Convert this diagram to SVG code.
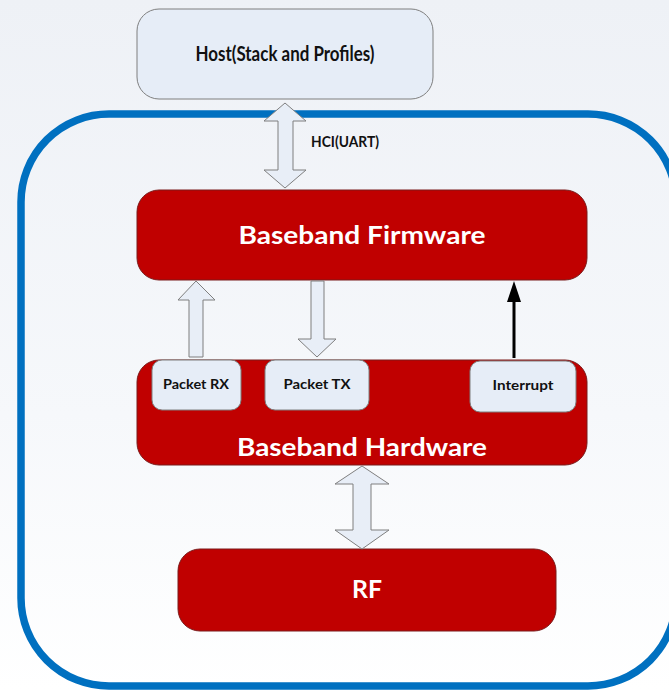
<svg xmlns="http://www.w3.org/2000/svg" width="669" height="690" viewBox="0 0 669 690">
<defs>
<linearGradient id="bg" x1="0" y1="0" x2="0" y2="1">
<stop offset="0" stop-color="#eef1f6"/>
<stop offset="0.6" stop-color="#f6f8fb"/>
<stop offset="1" stop-color="#ffffff"/>
</linearGradient>
<style>
.red{fill:#c00000;stroke:#7a1a1a;stroke-width:1}
.light{fill:#e6edf7;stroke:#7f7f7f;stroke-width:1}
.arrow{fill:#e8eef7;stroke:#7f7f7f;stroke-width:1}
.t{font-family:Lato,"Liberation Sans",sans-serif;font-weight:bold;text-anchor:middle}
.big{font-size:25px;fill:#ffffff}
.dark{fill:#111111}
</style>
</defs>
<rect x="0" y="0" width="669" height="690" fill="url(#bg)"/>
<rect x="21" y="114" width="655" height="572" rx="88" ry="88" fill="none" stroke="#0070c0" stroke-width="7.5"/>

<g id="host">
<rect class="light" x="137" y="9" width="296" height="90" rx="22"/>
<text class="t dark" x="285" y="61" font-size="20" textLength="179" lengthAdjust="spacingAndGlyphs">Host(Stack and Profiles)</text>
</g>

<g id="firmware">
<rect class="red" x="137" y="190" width="450" height="90" rx="22"/>
<text class="t big" x="362" y="244" textLength="247" lengthAdjust="spacingAndGlyphs">Baseband Firmware</text>
</g>

<g id="hardware">
<rect class="red" x="137" y="360" width="450" height="105" rx="22"/>
<text class="t big" x="362" y="456" textLength="250" lengthAdjust="spacingAndGlyphs">Baseband Hardware</text>
</g>

<g id="packet-rx">
<rect class="light" x="152" y="360" width="89" height="50" rx="10"/>
<text class="t dark" x="196" y="389" font-size="14" textLength="66" lengthAdjust="spacingAndGlyphs">Packet RX</text>
</g>

<g id="packet-tx">
<rect class="light" x="265" y="360" width="104" height="50" rx="10"/>
<text class="t dark" x="317" y="389" font-size="14" textLength="67" lengthAdjust="spacingAndGlyphs">Packet TX</text>
</g>

<g id="interrupt">
<rect class="light" x="470" y="361" width="106" height="51" rx="10"/>
<text class="t dark" x="523" y="390" font-size="14" textLength="61" lengthAdjust="spacingAndGlyphs">Interrupt</text>
</g>

<g id="rf">
<rect class="red" x="178" y="549" width="378" height="82" rx="22"/>
<text class="t big" x="367" y="598" textLength="30" lengthAdjust="spacingAndGlyphs">RF</text>
</g>

<g id="connectors">
<polygon class="arrow" points="285,103 306,121 293,121 293,170 306,170 285,188 264,170 278,170 278,121 264,121"/>
<text class="t dark" x="345" y="147" font-size="15" textLength="68" lengthAdjust="spacingAndGlyphs">HCI(UART)</text>
<polygon class="arrow" points="196,281 215,300 203,300 203,357 189,357 189,300 178,300"/>
<polygon class="arrow" points="311,281 324,281 324,339 336,339 317,357 298,339 311,339"/>
<line x1="514" y1="358" x2="514" y2="298" stroke="#000000" stroke-width="3"/>
<polygon points="514,281 521,302 507,302" fill="#000000"/>
<polygon class="arrow" points="362,466 389,484 371,484 371,530 389,530 362,549 335,530 353,530 353,484 335,484"/>
</g>
</svg>
